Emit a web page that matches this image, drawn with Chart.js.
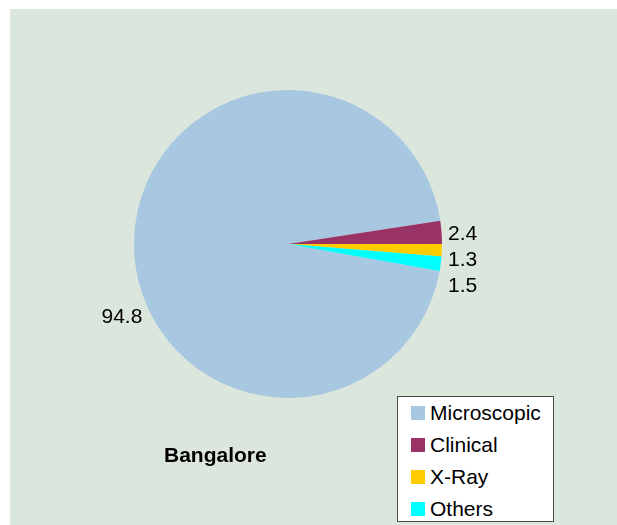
<!DOCTYPE html>
<html>
<head>
<meta charset="utf-8">
<script src="https://cdn.jsdelivr.net/npm/chart.js@4.4.1/dist/chart.umd.min.js"></script>
<style>
  body { margin: 0; background: #ffffff; font-family: "Liberation Sans", Arial, sans-serif; }
  #wrap { position: relative; width: 617px; height: 525px; overflow: hidden; }
  #bg { position: absolute; left: 10px; top: 9px; right: 0; bottom: 0; background: #dbe6dc; }
  #chart { position: absolute; left: 0; top: 0; }
  #title { position: absolute; left: 164px; top: 444px; font-size: 21px; line-height: 21px; font-weight: bold; color: #000; }
  #legend { position: absolute; left: 397px; top: 396px; width: 155px; height: 124px; background: #fff; border: 1px solid #4a4a4a; }
  .row { height: 32px; display: flex; align-items: center; font-size: 21px; color: #000; }
  .box { width: 14px; height: 14px; margin-left: 13px; margin-right: 5px; }
</style>
</head>
<body>
<div id="wrap">
  <div id="bg"></div>
  <canvas id="chart" width="617" height="525"></canvas>
  <div id="title">Bangalore</div>
  <div id="legend"></div>
</div>
<script>
const categories = ["Microscopic", "Clinical", "X-Ray", "Others"];
const values = [94.8, 2.4, 1.3, 1.5];
const sliceColors = ["#a8c7e1", "#993366", "#ffcc00", "#00ffff"];

// start so that Clinical sits just above 3 o'clock, like the original
const total = values.reduce((a, b) => a + b, 0);
const startRotation = 90 - (values[0] + values[1]) / total * 360;

// value labels, small slices stacked to the right of the pie
const valueLabels = {
    id: "valueLabels",
    afterDatasetsDraw(chart, args, opts) {
        const ctx = chart.ctx;
        const meta = chart.getDatasetMeta(0);
        ctx.save();
        ctx.font = "21px 'Liberation Sans', Arial, sans-serif";
        ctx.fillStyle = "#000";
        ctx.textBaseline = "alphabetic";
        let lastY = -Infinity;
        meta.data.forEach((arc, i) => {
            const p = arc.getProps(["x", "y", "startAngle", "endAngle", "outerRadius"], true);
            const text = String(values[i]);
            const span = p.endAngle - p.startAngle;
            if (span < 0.5) {
                const mid = (p.startAngle + p.endAngle) / 2;
                let y = p.y + p.outerRadius * Math.sin(mid);
                y = Math.max(y, lastY + opts.spacing);
                lastY = y;
                ctx.textAlign = "left";
                ctx.fillText(text, p.x + p.outerRadius + 6, y + 7.5);
            } else {
                const a = opts.bigAngle * Math.PI / 180;
                const d = p.outerRadius + opts.bigDist;
                ctx.textAlign = "center";
                ctx.fillText(text, p.x + d * Math.cos(a), p.y + d * Math.sin(a) + 7.5);
            }
        });
        ctx.restore();
    }
};

new Chart(document.getElementById("chart"), {
    type: "pie",
    data: {
        labels: categories,
        datasets: [{
            data: values,
            backgroundColor: sliceColors,
            borderWidth: 0
        }]
    },
    options: {
        responsive: false,
        animation: false,
        rotation: startRotation,
        layout: { padding: { left: 134, top: 90, right: 175, bottom: 127 } },
        plugins: {
            legend: { display: false },
            tooltip: { enabled: false },
            valueLabels: { spacing: 26, bigAngle: 156.6, bigDist: 27 }
        }
    },
    plugins: [valueLabels]
});

// legend box
const legend = document.getElementById("legend");
categories.forEach((name, i) => {
    legend.innerHTML += `<div class="row"><div class="box" style="background:${sliceColors[i]}"></div>${name}</div>`;
});
</script>
</body>
</html>
